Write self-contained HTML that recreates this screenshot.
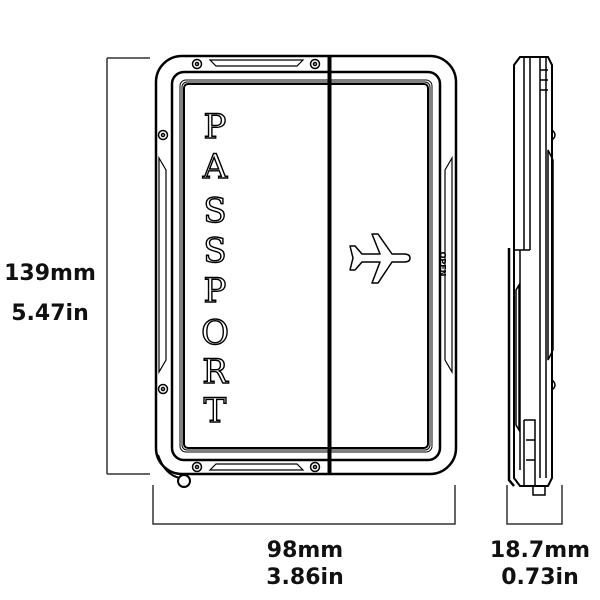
<!DOCTYPE html>
<html><head><style>
html,body{margin:0;padding:0;background:#fff;width:600px;height:600px;overflow:hidden}
svg{display:block}
.t{font-family:"DejaVu Sans","Liberation Sans",sans-serif;font-weight:bold;font-size:22px;fill:#111}
.p{font-family:"DejaVu Serif","Liberation Serif",serif;font-size:34px;fill:#fff;stroke:#000;stroke-width:1.4}
</style></head><body>
<svg width="600" height="600" viewBox="0 0 600 600">
<g fill="none" stroke="#333" stroke-width="1.5">
<path d="M107 58 H150 M107 58 V474 M107 474 H150"/>
<path d="M153 485 V524 H455 V485"/>
<path d="M507 485 V524 H562 V485"/>
</g>
<text class="t" x="50" y="280" text-anchor="middle">139mm</text>
<text class="t" x="50" y="320" text-anchor="middle">5.47in</text>
<text class="t" x="305" y="557" text-anchor="middle">98mm</text>
<text class="t" x="305" y="584" text-anchor="middle">3.86in</text>
<text class="t" x="540" y="557" text-anchor="middle">18.7mm</text>
<text class="t" x="540" y="584" text-anchor="middle">0.73in</text>

<g fill="none" stroke="#000">
<rect x="156" y="56" width="300" height="418" rx="26" stroke-width="2.5"/>
<rect x="172" y="72" width="268" height="388" rx="12" stroke-width="2.5"/>
<rect x="180" y="80" width="252" height="372" rx="6" stroke-width="1"/>
<rect x="182" y="82" width="248" height="368" rx="5" stroke-width="1"/>
<rect x="184" y="84" width="244" height="364" rx="4" stroke-width="2"/>
<path d="M328 56 V474 M331 56 V474" stroke-width="1"/>
<path d="M329.5 56 V474" stroke-width="2"/>
<path d="M210 60 H303 L297 66 H216 Z" stroke-width="1.2"/>
<path d="M210 470 H303 L297 464 H216 Z" stroke-width="1.2"/>
<path d="M159 158 L166 170 V360 L159 372 Z" stroke-width="1.2"/>
<path d="M452 158 L445 170 V360 L452 372 Z" stroke-width="1.2"/>
<g stroke-width="1.5">
<circle cx="197" cy="64" r="4.5"/><circle cx="197" cy="64" r="1.5"/>
<circle cx="315" cy="64" r="4.5"/><circle cx="315" cy="64" r="1.5"/>
<circle cx="197" cy="467" r="4.5"/><circle cx="197" cy="467" r="1.5"/>
<circle cx="315" cy="467" r="4.5"/><circle cx="315" cy="467" r="1.5"/>
<circle cx="163" cy="135" r="4.5"/><circle cx="163" cy="135" r="1.5"/>
<circle cx="163" cy="389" r="4.5"/><circle cx="163" cy="389" r="1.5"/>
</g>
<path d="M158 455 Q165 475 180 478" stroke-width="2"/>
<circle cx="184" cy="481" r="6" stroke-width="2" fill="#fff"/>
<path d="M410 258 Q410 254 404 254 L392 254 L378 234 L372 234 L380 254 L362 254 L355 246 L350 246 L353 258 L350 270 L355 270 L362 262 L380 262 L372 283 L378 283 L392 262 L404 262 Q410 262 410 258 Z" stroke-width="1.5" stroke-linejoin="round"/>
</g>
<text x="440" y="264" font-family="DejaVu Sans,sans-serif" font-size="8" font-weight="bold" transform="rotate(90 440 264)" text-anchor="middle">OPEN</text>
<g class="p" text-anchor="middle">
<text x="215" y="138">P</text><text x="215" y="178">A</text><text x="215" y="222">S</text><text x="215" y="262">S</text>
<text x="215" y="302">P</text><text x="215" y="344">O</text><text x="215" y="383">R</text><text x="215" y="422">T</text>
</g>

<g fill="none" stroke="#000" stroke-width="1.5">
<path d="M520 57 H548 L552 65 V478 L548 486 H520 L514 478 V65 Z" stroke-width="2"/>
<path d="M524 57 V250 M530 57 V250 M540 57 V478 M546 57 V478"/>
<path d="M514 250 H530"/>
<path d="M509 248 V480 L514 486" stroke-width="2.5"/>
<path d="M520 250 V470"/>
<path d="M524 420 H535 V486 M524 420 V486 M526 440 H535 M526 460 H535"/>
<path d="M548 150 L553 160 V350 L548 360 Z"/>
<path d="M516 290 L519 285 V430 L516 425 Z"/>
<path d="M533 486 V495 H545 V486"/>
<path d="M548 70 H540 M548 80 H540 M548 90 H540"/>
<path d="M552 130 q6 5 0 10 M552 380 q6 5 0 10"/>
</g>
</svg>
</body></html>
